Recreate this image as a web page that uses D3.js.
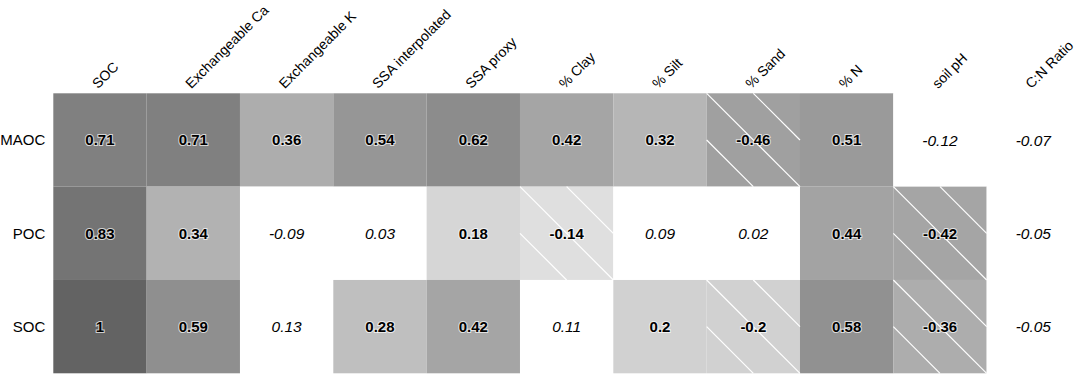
<!DOCTYPE html>
<html>
<head>
<meta charset="utf-8">
<script src="https://cdn.jsdelivr.net/npm/d3@7"></script>
<style>
  html, body { margin: 0; padding: 0; background: #fff; }
  svg text { font-family: "Liberation Sans", Arial, sans-serif; }
  .val-sig { font-weight: bold; font-size: 15px; paint-order: stroke; stroke: #fff; stroke-width: 2px; stroke-opacity: 0.7; }
  .val-ns { font-style: italic; font-size: 15.5px; }
</style>
</head>
<body>
<div id="chart"></div>
<script>
// rows and columns of the correlation table
const rowNames = ["MAOC", "POC", "SOC"];
const colNames = ["SOC", "Exchangeable Ca", "Exchangeable K", "SSA interpolated", "SSA proxy",
  "% Clay", "% Silt", "% Sand", "% N", "soil pH", "C:N Ratio"];

// correlation coefficients per row
const maocValues = [0.71, 0.71, 0.36, 0.54, 0.62, 0.42, 0.32, -0.46, 0.51, -0.12, -0.07];
const pocValues  = [0.83, 0.34, -0.09, 0.03, 0.18, -0.14, 0.09, 0.02, 0.44, -0.42, -0.05];
const socValues  = [1, 0.59, 0.13, 0.28, 0.42, 0.11, 0.2, -0.2, 0.58, -0.36, -0.05];

// 1 = significant (shaded, bold), 0 = not significant (blank, italic)
const maocSig = [1, 1, 1, 1, 1, 1, 1, 1, 1, 0, 0];
const pocSig  = [1, 1, 0, 0, 1, 1, 0, 0, 1, 1, 0];
const socSig  = [1, 1, 0, 1, 1, 0, 1, 1, 1, 1, 0];

(function () {
  "use strict";

  const valuesByRow = [maocValues, pocValues, socValues];
  const sigByRow = [maocSig, pocSig, socSig];

  const cells = [];
  rowNames.forEach((r, ri) => {
    colNames.forEach((c, ci) => {
      cells.push({ row: r, col: c, value: valuesByRow[ri][ci], sig: sigByRow[ri][ci] === 1 });
    });
  });

  const totalW = 1084, totalH = 375;
  const margin = { top: 93.3, right: 4, bottom: 1.7, left: 53.3 };
  const width = totalW - margin.left - margin.right;
  const height = totalH - margin.top - margin.bottom;

  const x = d3.scaleBand().domain(colNames).range([0, width]);
  const y = d3.scaleBand().domain(rowNames).range([0, height]);

  // grey level by |r|
  const grey = d3.scaleLinear()
    .domain([0.14, 0.36, 0.71, 1])
    .range([223, 173, 128, 99])
    .clamp(true);
  const fillOf = d => {
    if (!d.sig) return "#ffffff";
    const g = Math.round(grey(Math.abs(d.value)));
    return d3.rgb(g, g, g).formatHex();
  };

  const svg = d3.select("#chart").append("svg")
    .attr("width", totalW)
    .attr("height", totalH);

  const g = svg.append("g")
    .attr("transform", `translate(${margin.left},${margin.top})`);

  // cells
  g.selectAll(".cell")
    .data(cells)
    .join("rect")
    .attr("class", "cell")
    .attr("x", d => x(d.col))
    .attr("y", d => y(d.row))
    .attr("width", x.bandwidth())
    .attr("height", y.bandwidth())
    .attr("fill", fillOf);

  // hatching on significant negative cells
  const w = x.bandwidth(), h = y.bandwidth();
  const hatchCells = cells.filter(d => d.sig && d.value < 0);
  const hatchLines = [];
  hatchCells.forEach(d => {
    const x0 = x(d.col), y0 = y(d.row);
    hatchLines.push([x0, y0, x0 + w, y0 + h]);
    hatchLines.push([x0 + w / 2, y0, x0 + w, y0 + h / 2]);
    hatchLines.push([x0, y0 + h / 2, x0 + w / 2, y0 + h]);
  });
  g.selectAll(".hatch")
    .data(hatchLines)
    .join("line")
    .attr("class", "hatch")
    .attr("x1", d => d[0]).attr("y1", d => d[1])
    .attr("x2", d => d[2]).attr("y2", d => d[3])
    .attr("stroke", "#fff")
    .attr("stroke-width", 1.2);

  // values
  g.selectAll(".val")
    .data(cells)
    .join("text")
    .attr("class", d => d.sig ? "val val-sig" : "val val-ns")
    .attr("x", d => x(d.col) + w / 2)
    .attr("y", d => y(d.row) + h / 2)
    .attr("dy", "0.36em")
    .attr("text-anchor", "middle")
    .attr("fill", "#000")
    .text(d => String(d.value));

  // row labels
  g.selectAll(".row-label")
    .data(rowNames)
    .join("text")
    .attr("class", "row-label")
    .attr("x", -8)
    .attr("y", d => y(d) + h / 2)
    .attr("dy", "0.36em")
    .attr("text-anchor", "end")
    .style("font-size", "15px")
    .text(d => d);

  // column labels, rotated
  g.selectAll(".col-label")
    .data(colNames)
    .join("text")
    .attr("class", "col-label")
    .attr("transform", d => `translate(${x(d) + w / 2 - 2},${-4}) rotate(-45)`)
    .attr("text-anchor", "start")
    .style("font-size", "14px")
    .text(d => d);
})();
</script>
</body>
</html>
